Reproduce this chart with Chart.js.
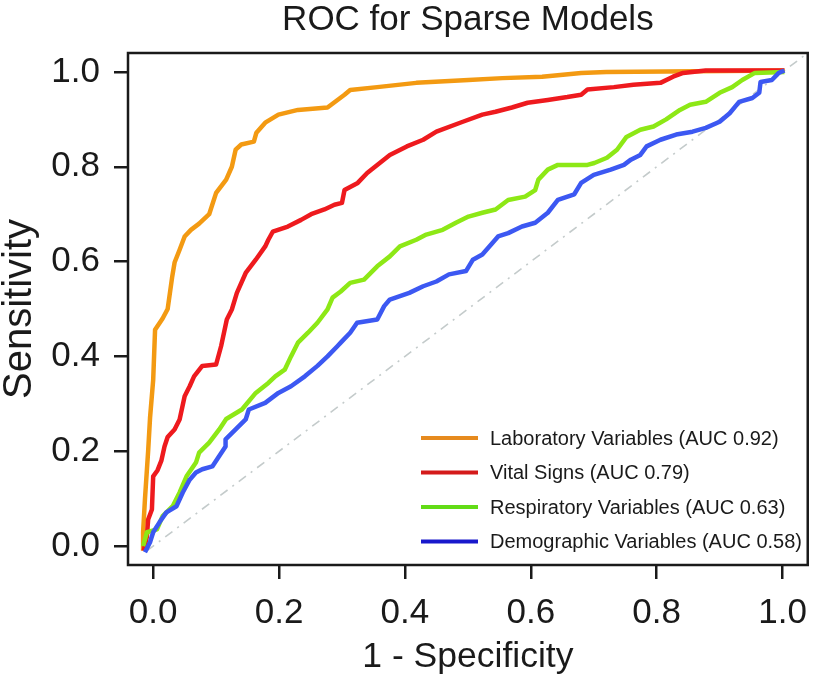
<!DOCTYPE html>
<html>
<head>
<meta charset="utf-8">
<script src="https://cdn.jsdelivr.net/npm/chart.js@4.4.1/dist/chart.umd.min.js"></script>
<style>
  html, body { margin: 0; padding: 0; background: #fff; }
  #wrap { width: 820px; height: 678px; }
</style>
</head>
<body>
<div id="wrap"><canvas id="rocChart"></canvas></div>
<script>
// ROC curves (1 - specificity, sensitivity)
const labFpr = [-0.016, -0.016, -0.013, -0.008, -0.005, 0.0, 0.003, 0.015, 0.023, 0.03, 0.034, 0.042, 0.05, 0.06, 0.073, 0.089, 0.1, 0.116, 0.125, 0.131, 0.14, 0.16, 0.164, 0.178, 0.199, 0.23, 0.277, 0.304, 0.313, 0.356, 0.418, 0.501, 0.555, 0.618, 0.68, 0.72, 1.003];
const labTpr = [-0.01, 0.03, 0.1, 0.2, 0.27, 0.35, 0.456, 0.48, 0.5, 0.566, 0.598, 0.625, 0.653, 0.667, 0.68, 0.7, 0.745, 0.773, 0.8, 0.836, 0.847, 0.853, 0.872, 0.893, 0.91, 0.92, 0.925, 0.952, 0.962, 0.968, 0.977, 0.983, 0.987, 0.99, 0.998, 1.0, 1.003];

const vitalFpr = [-0.015, -0.01, -0.008, -0.002, 0.0, 0.007, 0.013, 0.018, 0.023, 0.034, 0.042, 0.05, 0.058, 0.065, 0.078, 0.1, 0.108, 0.117, 0.125, 0.133, 0.147, 0.163, 0.178, 0.183, 0.19, 0.214, 0.235, 0.251, 0.272, 0.288, 0.3, 0.304, 0.325, 0.34, 0.36, 0.376, 0.403, 0.429, 0.45, 0.492, 0.523, 0.544, 0.57, 0.595, 0.627, 0.658, 0.68, 0.69, 0.732, 0.763, 0.806, 0.826, 0.842, 0.878, 1.003];
const vitalTpr = [-0.01, 0.02, 0.056, 0.077, 0.147, 0.16, 0.18, 0.21, 0.23, 0.246, 0.267, 0.316, 0.337, 0.358, 0.38, 0.383, 0.422, 0.478, 0.499, 0.534, 0.576, 0.604, 0.632, 0.646, 0.663, 0.674, 0.688, 0.7, 0.71, 0.72, 0.724, 0.751, 0.766, 0.787, 0.808, 0.825, 0.843, 0.857, 0.874, 0.895, 0.91, 0.916, 0.925, 0.935, 0.941, 0.947, 0.952, 0.963, 0.968, 0.973, 0.977, 0.99, 0.998, 1.003, 1.003];

const respFpr = [-0.016, -0.01, 0.006, 0.015, 0.031, 0.042, 0.053, 0.068, 0.073, 0.089, 0.105, 0.116, 0.141, 0.163, 0.183, 0.194, 0.209, 0.219, 0.23, 0.246, 0.261, 0.277, 0.285, 0.298, 0.313, 0.335, 0.356, 0.376, 0.392, 0.418, 0.434, 0.46, 0.481, 0.501, 0.523, 0.544, 0.564, 0.591, 0.607, 0.612, 0.627, 0.643, 0.69, 0.701, 0.721, 0.737, 0.752, 0.774, 0.795, 0.815, 0.837, 0.853, 0.878, 0.9, 0.92, 0.936, 0.956, 1.003];
const respTpr = [0.0, 0.029, 0.035, 0.063, 0.084, 0.113, 0.147, 0.176, 0.197, 0.218, 0.246, 0.268, 0.288, 0.323, 0.344, 0.358, 0.372, 0.4, 0.429, 0.45, 0.471, 0.499, 0.524, 0.537, 0.555, 0.562, 0.59, 0.611, 0.632, 0.646, 0.657, 0.667, 0.682, 0.695, 0.703, 0.71, 0.73, 0.737, 0.751, 0.773, 0.794, 0.804, 0.804, 0.808, 0.819, 0.836, 0.863, 0.878, 0.885, 0.9, 0.92, 0.931, 0.937, 0.956, 0.968, 0.983, 0.998, 1.0];

const demoFpr = [-0.013, -0.005, 0.0, 0.01, 0.021, 0.037, 0.047, 0.058, 0.068, 0.078, 0.094, 0.105, 0.115, 0.115, 0.131, 0.147, 0.152, 0.178, 0.199, 0.219, 0.241, 0.261, 0.277, 0.293, 0.298, 0.313, 0.324, 0.356, 0.367, 0.376, 0.407, 0.429, 0.45, 0.47, 0.497, 0.508, 0.523, 0.539, 0.548, 0.564, 0.586, 0.607, 0.627, 0.643, 0.669, 0.68, 0.7, 0.727, 0.748, 0.759, 0.774, 0.784, 0.806, 0.831, 0.857, 0.878, 0.9, 0.916, 0.931, 0.952, 0.963, 0.965, 0.983, 0.994, 1.003];
const demoTpr = [-0.013, 0.008, 0.029, 0.05, 0.071, 0.084, 0.113, 0.14, 0.155, 0.162, 0.168, 0.19, 0.21, 0.225, 0.246, 0.267, 0.288, 0.302, 0.323, 0.337, 0.358, 0.38, 0.4, 0.422, 0.429, 0.45, 0.471, 0.478, 0.506, 0.52, 0.534, 0.548, 0.558, 0.573, 0.58, 0.604, 0.615, 0.639, 0.653, 0.66, 0.674, 0.682, 0.703, 0.73, 0.742, 0.766, 0.783, 0.794, 0.804, 0.815, 0.825, 0.843, 0.857, 0.868, 0.874, 0.882, 0.895, 0.913, 0.937, 0.945, 0.956, 0.979, 0.983, 0.998, 1.003];

const chanceLine = [-0.01, 1.04];

const seriesNames = [
    'Laboratory Variables (AUC 0.92)',
    'Vital Signs (AUC 0.79)',
    'Respiratory Variables (AUC 0.63)',
    'Demographic Variables (AUC 0.58)'
];
const xTickValues = [0, 0.2, 0.4, 0.6, 0.8, 1.0];
const yTickValues = [0, 0.2, 0.4, 0.6, 0.8, 1.0];

const lineColors = ['#f39a12', '#ee1a1e', '#8de816', '#3c58f2'];
const legendColors = ['#e68a1e', '#d41b1b', '#62dc16', '#1818cc'];
const fontFamily = '"Liberation Sans", Arial, Helvetica, sans-serif';

function toPoints(xs, ys) {
    return xs.map(function(x, i) { return { x: x, y: ys[i] }; });
}

const curves = [
    toPoints(labFpr, labTpr),
    toPoints(vitalFpr, vitalTpr),
    toPoints(respFpr, respTpr),
    toPoints(demoFpr, demoTpr)
];

const datasets = curves.map(function(pts, i) {
    return {
        label: seriesNames[i],
        data: pts,
        borderColor: lineColors[i],
        borderWidth: 4.5,
        borderJoinStyle: 'round',
        pointRadius: 0,
        tension: 0,
        fill: false,
        order: 4 - i
    };
});
datasets.push({
    label: 'chance',
    data: toPoints(chanceLine, chanceLine),
    borderColor: '#c4cbcb',
    borderWidth: 1.6,
    borderDash: [9, 6, 2, 6],
    pointRadius: 0,
    fill: false,
    order: 10
});

// title, frame and legend drawn on the canvas
const frameAndLegend = {
    id: 'frameAndLegend',
    afterDatasetsDraw(chart) {
        const ctx = chart.ctx;
        const a = chart.chartArea;
        ctx.save();
        ctx.strokeStyle = '#1a1a1a';
        ctx.lineWidth = 2.5;
        ctx.strokeRect(a.left, a.top, a.right - a.left, a.bottom - a.top);

        // legend in the lower right of the plot
        ctx.font = '20px ' + fontFamily;
        ctx.textBaseline = 'middle';
        ctx.textAlign = 'left';
        seriesNames.forEach(function(name, i) {
            const y = 438 + i * 34.5;
            ctx.strokeStyle = legendColors[i];
            ctx.lineWidth = 4;
            ctx.beginPath();
            ctx.moveTo(421, y);
            ctx.lineTo(478, y);
            ctx.stroke();
            ctx.fillStyle = '#1a1a1a';
            ctx.fillText(name, 490, y + 1);
        });

        // chart title centred over plot area
        ctx.font = '35px ' + fontFamily;
        ctx.textAlign = 'center';
        ctx.textBaseline = 'middle';
        ctx.fillStyle = '#1a1a1a';
        ctx.fillText('ROC for Sparse Models', (a.left + a.right) / 2, 20);
        ctx.restore();
    }
};

const ctx = document.getElementById('rocChart');
const rocChart = new Chart(ctx, {
    type: 'line',
    data: { datasets: datasets },
    options: {
        responsive: true,
        maintainAspectRatio: false,
        animation: false,
        layout: { padding: { top: 53, right: 3, left: 0, bottom: 0 } },
        plugins: {
            legend: { display: false },
            tooltip: { enabled: false },
            title: { display: false }
        },
        scales: {
            x: {
                type: 'linear',
                min: -0.04,
                max: 1.04,
                afterBuildTicks: function(scale) {
                    scale.ticks = xTickValues.map(function(v) { return { value: v }; });
                },
                afterFit: function(scale) { scale.height = 113; },
                border: { display: false },
                grid: {
                    drawOnChartArea: false,
                    drawTicks: true,
                    tickLength: 14,
                    color: '#1a1a1a',
                    lineWidth: 2.5
                },
                ticks: {
                    color: '#1a1a1a',
                    font: { family: fontFamily, size: 35 },
                    padding: 13,
                    maxRotation: 0,
                    callback: function(v) { return v.toFixed(1); }
                },
                title: {
                    display: true,
                    text: '1 - Specificity',
                    color: '#1a1a1a',
                    font: { family: fontFamily, size: 35.5, lineHeight: 1 },
                    padding: { top: 0, bottom: 3 }
                }
            },
            y: {
                type: 'linear',
                min: -0.04,
                max: 1.04,
                afterBuildTicks: function(scale) {
                    scale.ticks = yTickValues.map(function(v) { return { value: v }; });
                },
                afterFit: function(scale) { scale.width = 128; },
                border: { display: false },
                grid: {
                    drawOnChartArea: false,
                    drawTicks: true,
                    tickLength: 14,
                    color: '#1a1a1a',
                    lineWidth: 2.5
                },
                ticks: {
                    color: '#1a1a1a',
                    font: { family: fontFamily, size: 35 },
                    padding: 14,
                    callback: function(v) { return v.toFixed(1); }
                },
                title: {
                    display: true,
                    text: 'Sensitivity',
                    color: '#1a1a1a',
                    font: { family: fontFamily, size: 40, lineHeight: 1 },
                    padding: { top: 0, bottom: 0 }
                }
            }
        }
    },
    plugins: [frameAndLegend]
});
</script>
</body>
</html>
